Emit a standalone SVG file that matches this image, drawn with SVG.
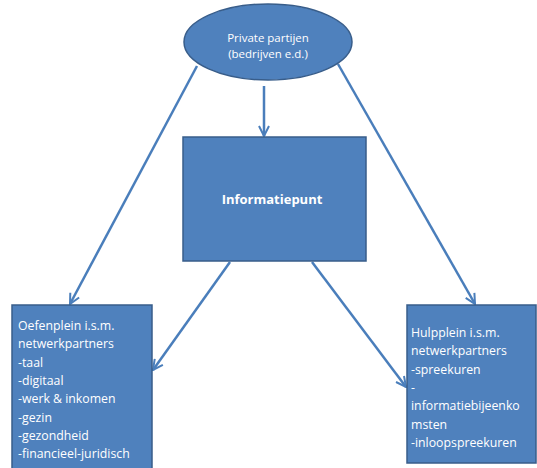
<svg xmlns="http://www.w3.org/2000/svg" width="537" height="468" viewBox="0 0 537 468">
<style>
.n{fill:#4F81BD;stroke:#385D8A;stroke-width:1.5}
.c line{stroke:#4A7EBB;stroke-width:2.5;fill:none}
text{fill:#fff;font-family:"Open Sans","Liberation Sans",sans-serif}
.s{font-size:11.5px}
.b{font-size:13px;font-weight:bold}
.t{font-size:12.3px}
</style>
<defs>
<marker id="a" viewBox="0 0 10 10" refX="9" refY="5" markerWidth="5" markerHeight="5" orient="auto" markerUnits="strokeWidth">
<path d="M1,1 L9,5 L1,9" fill="none" stroke="#4A7EBB" stroke-width="1.6"/>
</marker>
</defs>
<rect width="537" height="468" fill="#fff"/>
<g id="connectors" class="c">
<line x1="264" y1="86" x2="264" y2="136" marker-end="url(#a)"/>
<line x1="197" y1="66" x2="70" y2="304" marker-end="url(#a)"/>
<line x1="338" y1="64" x2="475" y2="304" marker-end="url(#a)"/>
<line x1="230" y1="262" x2="153" y2="370" marker-end="url(#a)"/>
<line x1="312" y1="262" x2="406" y2="387" marker-end="url(#a)"/>
</g>
<g id="private">
<ellipse class="n" cx="268" cy="42" rx="84" ry="38"/>
<text class="s" x="268" y="42" text-anchor="middle">Private partijen</text>
<text class="s" x="268" y="58" text-anchor="middle">(bedrijven e.d.)</text>
</g>
<g id="informatiepunt">
<rect class="n" x="183" y="137" width="183" height="124"/>
<text class="b" x="272" y="204" text-anchor="middle">Informatiepunt</text>
</g>
<g id="oefenplein">
<rect class="n" x="12" y="305" width="140" height="170"/>
<text class="t" x="18" y="330">
<tspan x="18">Oefenplein  i.s.m.</tspan>
<tspan x="18" dy="18.3">netwerkpartners</tspan>
<tspan x="18" dy="18.3">-taal</tspan>
<tspan x="18" dy="18.3">-digitaal</tspan>
<tspan x="18" dy="18.3">-werk &amp; inkomen</tspan>
<tspan x="18" dy="18.3">-gezin</tspan>
<tspan x="18" dy="18.3">-gezondheid</tspan>
<tspan x="18" dy="18.3">-financieel-juridisch</tspan>
</text>
</g>
<g id="hulpplein">
<rect class="n" x="407" y="305" width="129" height="158"/>
<text class="t" x="411" y="337">
<tspan x="411">Hulpplein i.s.m.</tspan>
<tspan x="411" dy="18.3">netwerkpartners</tspan>
<tspan x="411" dy="18.3">-spreekuren</tspan>
<tspan x="411" dy="18.3">-</tspan>
<tspan x="411" dy="18.3">informatiebijeenko</tspan>
<tspan x="411" dy="18.3">msten</tspan>
<tspan x="411" dy="18.3">-inloopspreekuren</tspan>
</text>
</g>
</svg>
